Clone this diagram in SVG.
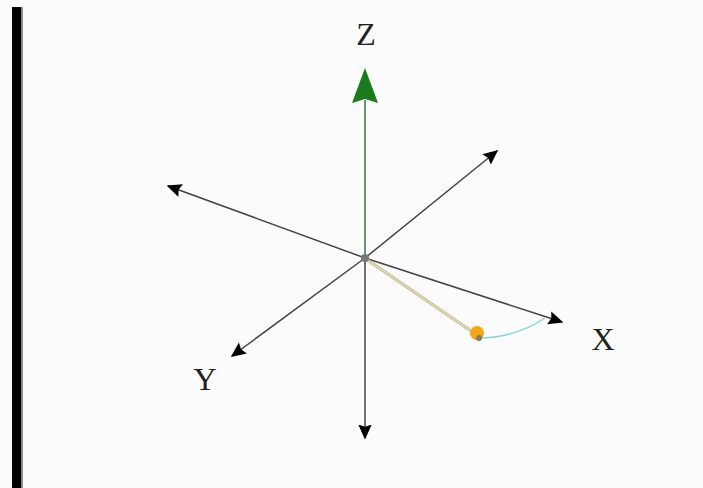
<svg xmlns="http://www.w3.org/2000/svg" width="703" height="488" viewBox="0 0 703 488">
<style>
.ax{stroke:#444;stroke-width:1.5;fill:none}
.lbl{font-family:"Liberation Serif",serif;font-size:32px;fill:#222;text-anchor:middle}
</style>
<defs>
<marker id="ahb" viewBox="0 0 10 10" refX="9" refY="5" markerWidth="15" markerHeight="15" markerUnits="userSpaceOnUse" orient="auto"><path d="M0,0.5 L10,5 L0,9.5 L1.5,5 Z" fill="#000"/></marker>
</defs>
<rect width="703" height="488" fill="#fbfbfb"/>
<rect x="12" y="7" width="9" height="481" fill="#000"/>
<rect x="21" y="7" width="2" height="481" fill="#888"/>
<g id="connectors">
<line class="ax" x1="365" y1="258" x2="168" y2="186" marker-end="url(#ahb)"/>
<line class="ax" x1="365" y1="258" x2="562" y2="322" marker-end="url(#ahb)"/>
<line class="ax" x1="365" y1="258" x2="497" y2="151" marker-end="url(#ahb)"/>
<line class="ax" x1="365" y1="258" x2="232" y2="356" marker-end="url(#ahb)"/>
<line class="ax" x1="365" y1="258" x2="365" y2="438" marker-end="url(#ahb)"/>
<line x1="365" y1="258" x2="365" y2="100" stroke="#4a7a4a" stroke-width="1.6"/>
<path d="M352,103 L365,68 L378,103 L365,99 Z" fill="#1b7a1b"/>
<line x1="366" y1="259" x2="474" y2="333" stroke="#c8b890" stroke-width="3"/>
<line x1="366" y1="259" x2="474" y2="333" stroke="#f4eed8" stroke-width="1"/>
<path d="M478,338 Q515,338 545,318" stroke="#7fd6d6" stroke-width="1.5" fill="none"/>
</g>
<g id="origin"><circle cx="365" cy="258" r="4" fill="#777"/></g>
<g id="point"><circle cx="477" cy="333" r="7" fill="#f0a818"/><circle cx="479" cy="338" r="3" fill="#8a7a50"/></g>
<g id="label-z"><text class="lbl" x="366" y="45">Z</text></g>
<g id="label-x"><text class="lbl" x="603" y="350">X</text></g>
<g id="label-y"><text class="lbl" x="205" y="390">Y</text></g>
</svg>
